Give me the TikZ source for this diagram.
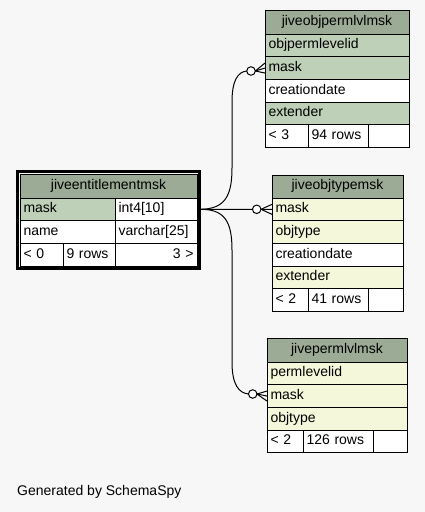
\documentclass[tikz,border=0pt]{standalone}
\usepackage{fontspec}
\setmainfont{Liberation Sans}
\usetikzlibrary{positioning}
\definecolor{bgc}{HTML}{F7F7F7}
\definecolor{hdrc}{HTML}{9BAB96}
\definecolor{pkc}{HTML}{BED1B8}
\definecolor{ixc}{HTML}{F4F7DA}
\begin{document}
\begin{tikzpicture}[
  x=1pt, y=-1pt,
  font=\fontsize{14}{16}\selectfont,
  cell/.style={draw, line width=1pt, fill=white, anchor=north west, inner xsep=3.5pt, inner ysep=0pt, outer sep=0pt,
    minimum height=22.7pt, text height=9.5pt, text depth=3pt, align=left, text width=#1},
  hdr/.style={cell=#1, fill=hdrc, align=center, minimum height=24pt},
  odot/.style={circle, draw, fill=white, line width=1pt, minimum size=8.5pt, inner sep=0pt, outer sep=0pt},
  conn/.style={line width=1pt}
]
\fill[bgc] (0,0) rectangle (425,512);
\useasboundingbox (0,0) rectangle (425,512);

% jiveentitlementmsk
\node[hdr=170pt] (eHd) at (20,174) {jiveentitlementmsk};
\node[cell=88pt, fill=pkc] (eMask) at (eHd.south west) {mask};
\node[cell=75pt] (eMaskT) at (eMask.north east) {int4[10]};
\node[cell=88pt] (eName) at (eMask.south west) {name};
\node[cell=75pt] (eNameT) at (eName.north east) {varchar[25]};
\node[cell=36pt] (ePar) at (eName.south west) {< 0};
\node[cell=45pt] (eRows) at (ePar.north east) {9 rows};
\node[cell=75pt, align=right] (eChi) at (eRows.north east) {3 >};
\draw[line width=3pt] ([shift={(-2.5,-2.5)}]eHd.north west) rectangle ([shift={(2.5,2.5)}]eChi.south east);

% jiveobjpermlvlmsk
\node[hdr=137pt] (aHd) at (265,10) {jiveobjpermlvlmsk};
\node[cell=137pt, fill=pkc] (aObj) at (aHd.south west) {objpermlevelid};
\node[cell=137pt, fill=pkc] (aMask) at (aObj.south west) {mask};
\node[cell=137pt] (aCre) at (aMask.south west) {creationdate};
\node[cell=137pt, fill=pkc] (aExt) at (aCre.south west) {extender};
\node[cell=36pt] (aPar) at (aExt.south west) {< 3};
\node[cell=53pt] (aRows) at (aPar.north east) {94 rows};
\node[cell=34pt] (aChi) at (aRows.north east) {};

% jiveobjtypemsk
\node[hdr=124pt, minimum height=23pt] (bHd) at (272,175) {jiveobjtypemsk};
\node[cell=124pt, fill=ixc] (bMask) at (bHd.south west) {mask};
\node[cell=124pt, fill=ixc] (bType) at (bMask.south west) {objtype};
\node[cell=124pt] (bCre) at (bType.south west) {creationdate};
\node[cell=124pt, fill=ixc] (bExt) at (bCre.south west) {extender};
\node[cell=29pt] (bPar) at (bExt.south west) {< 2};
\node[cell=53pt] (bRows) at (bPar.north east) {41 rows};
\node[cell=28pt] (bChi) at (bRows.north east) {};

% jivepermlvlmsk
\node[hdr=133pt] (cHd) at (267,338) {jivepermlvlmsk};
\node[cell=133pt, fill=ixc] (cPerm) at (cHd.south west) {permlevelid};
\node[cell=133pt, fill=ixc] (cMask) at (cPerm.south west) {mask};
\node[cell=133pt, fill=ixc] (cType) at (cMask.south west) {objtype};
\node[cell=29pt] (cPar) at (cType.south west) {< 2};
\node[cell=63pt] (cRows) at (cPar.north east) {126 rows};
\node[cell=27pt] (cChi) at (cRows.north east) {};

% relationships
\coordinate (src) at ([xshift=3pt]eMaskT.east);
\node[odot] (oA) at (251,71) {};
\node[odot] (oB) at (256.7,209.3) {};
\node[odot] (oC) at (252.7,394) {};

\draw[conn] (src) .. controls (225,209) and (232,196) .. (232,168) -- (232,102)
  .. controls (232,80) and (238,72) .. (oA.west);
\draw[conn] (src) -- (oB.west);
\draw[conn] (src) .. controls (225,209) and (232,222) .. (232,250) -- (232,362)
  .. controls (232,385) and (239,393) .. (oC.west);

\foreach \o/\m in {oA/aMask, oB/bMask, oC/cMask}
  \foreach \dy in {-5,0,5}
    \draw[conn] (\o.east) -- ([yshift=\dy pt]\m.west);

\node[anchor=base west, inner sep=0pt] (gen) at (17,495) {Generated by SchemaSpy};
\end{tikzpicture}
\end{document}
